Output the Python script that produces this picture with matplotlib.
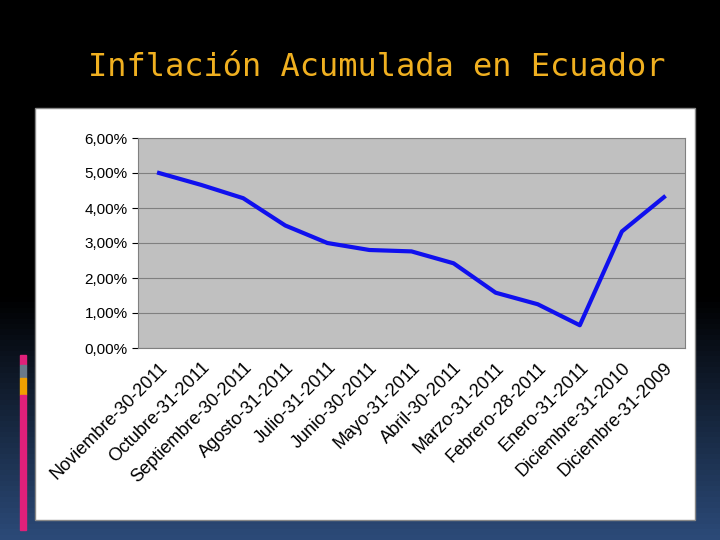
import matplotlib
matplotlib.use("Agg")
import matplotlib.pyplot as plt
import numpy as np
from matplotlib.patches import Rectangle

labels = ["Noviembre-30-2011", "Octubre-31-2011", "Septiembre-30-2011", "Agosto-31-2011",
          "Julio-31-2011", "Junio-30-2011", "Mayo-31-2011", "Abril-30-2011",
          "Marzo-31-2011", "Febrero-28-2011", "Enero-31-2011", "Diciembre-31-2010",
          "Diciembre-31-2009"]
values = [5.00, 4.66, 4.28, 3.50, 3.00, 2.80, 2.76, 2.42, 1.58, 1.25, 0.65, 3.33, 4.31]
yticks = [0, 1, 2, 3, 4, 5, 6]

W, H = 720, 540
fig = plt.figure(figsize=(7.2, 5.4), dpi=100)

bg = fig.add_axes([0, 0, 1, 1])
grad = np.zeros((100, 1, 3))
t = np.linspace(0, 1, 100)
s = np.clip((t - 0.55) / 0.45, 0, 1)
grad[:, 0, 0] = 0.17 * s
grad[:, 0, 1] = 0.29 * s
grad[:, 0, 2] = 0.47 * s
bg.imshow(grad, aspect="auto", extent=[0, 1, 0, 1], origin="upper")
bg.set_xlim(0, 1); bg.set_ylim(0, 1); bg.axis("off")

def fx(px): return px / W
def fy(py): return 1 - py / H

for y0, y1, c in [(355, 365, "#e0207a"), (365, 378, "#6a7a8a"), (378, 395, "#f0a000"), (395, 530, "#e0207a")]:
    bg.add_patch(Rectangle((fx(20), fy(y1)), fx(6), (y1 - y0) / H, color=c))
bg.add_patch(Rectangle((fx(35), fy(520)), fx(660), 412 / H, facecolor="white", edgecolor="#888888", lw=1))

fig.text(fx(377), fy(67), "Inflación Acumulada en Ecuador", color="#f0b020",
         family="DejaVu Sans Mono", fontsize=23, ha="center", va="center")

ax = fig.add_axes([fx(138), fy(348), fx(685 - 138), (348 - 138) / H])
ax.set_facecolor("#c0c0c0")
x = np.arange(len(values))
ax.plot(x, values, color="#1010ee", lw=3)
ax.set_xlim(-0.5, len(values) - 0.5)
ax.set_ylim(0, 6)
ax.set_yticks(yticks)
ax.set_yticklabels([f"{v:.2f}%".replace(".", ",") for v in yticks], fontsize=11, family="Liberation Sans")
ax.yaxis.grid(True, color="#808080", lw=0.8)
ax.set_axisbelow(True)
ax.set_xticks(x)
ax.set_xticklabels(labels, rotation=45, ha="right", rotation_mode="anchor", fontsize=13, family="Liberation Sans")
ax.tick_params(axis="x", length=0, pad=8)
ax.tick_params(axis="y", length=4)
for sp in ax.spines.values():
    sp.set_color("#808080")

fig.savefig("out.png", dpi=100)
